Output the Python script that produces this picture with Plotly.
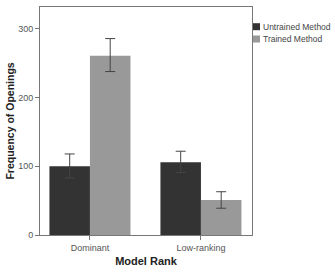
import plotly.graph_objects as go

categories = ["Dominant", "Low-ranking"]
untrained = [100, 106]
untrained_err_hi = [18, 16]
untrained_err_lo = [17, 15]
trained = [261, 51]
trained_err_hi = [25, 12]
trained_err_lo = [23, 12]
series_names = ["Untrained Method", "Trained Method"]
series_colors = ["#333333", "#999999"]

fig = go.Figure()
fig.add_bar(x=categories, y=untrained, name=series_names[0],
            marker=dict(color=series_colors[0], line=dict(width=0)),
            error_y=dict(type="data", symmetric=False, array=untrained_err_hi,
                         arrayminus=untrained_err_lo, color="#444444", thickness=1, width=5))
fig.add_bar(x=categories, y=trained, name=series_names[1],
            marker=dict(color=series_colors[1], line=dict(width=0)),
            error_y=dict(type="data", symmetric=False, array=trained_err_hi,
                         arrayminus=trained_err_lo, color="#444444", thickness=1, width=5))

# manual legend (squares + labels) to the right of the plot area
plot_h = 280 - 7 - 45
for i, (nm, col) in enumerate(zip(series_names, series_colors)):
    yc = 1 - (26.7 + 12.3 * i - 7) / plot_h
    fig.add_shape(type="rect", xref="paper", yref="paper",
                  x0=1 + 1 / 212, x1=1 + 8 / 212,
                  y0=yc - 3.5 / plot_h, y1=yc + 3.5 / plot_h,
                  fillcolor=col, line=dict(width=0))
    fig.add_annotation(text=nm, xref="paper", yref="paper", x=1 + 9 / 212, y=yc,
                       xanchor="left", yanchor="middle", showarrow=False,
                       font=dict(size=8.5, color="#444444"))

fig.update_layout(
    width=335, height=280,
    margin=dict(l=40, r=83, t=7, b=45, autoexpand=False),
    paper_bgcolor="white", plot_bgcolor="white",
    barmode="group", bargap=0.27, bargroupgap=0,
    font=dict(family="Liberation Sans, Arial, sans-serif", size=9, color="#555555"),
    showlegend=False,
)
fig.update_xaxes(range=[-0.45, 1.46], showline=True, linecolor="#777777", linewidth=1,
                 mirror=True, ticks="outside", ticklen=4, tickcolor="#777777",
                 showgrid=False,
                 title=dict(text="<b>Model Rank</b>", font=dict(size=11, color="#222222"), standoff=5))
fig.update_yaxes(range=[0, 332], tickvals=[0, 100, 200, 300], showline=True,
                 linecolor="#777777", linewidth=1, mirror=True, ticks="outside",
                 ticklen=4, tickcolor="#777777", showgrid=False, zeroline=False,
                 title=dict(text="<b>Frequency of Openings</b>", font=dict(size=10.5, color="#222222"), standoff=1))

fig.write_html("out.html")
